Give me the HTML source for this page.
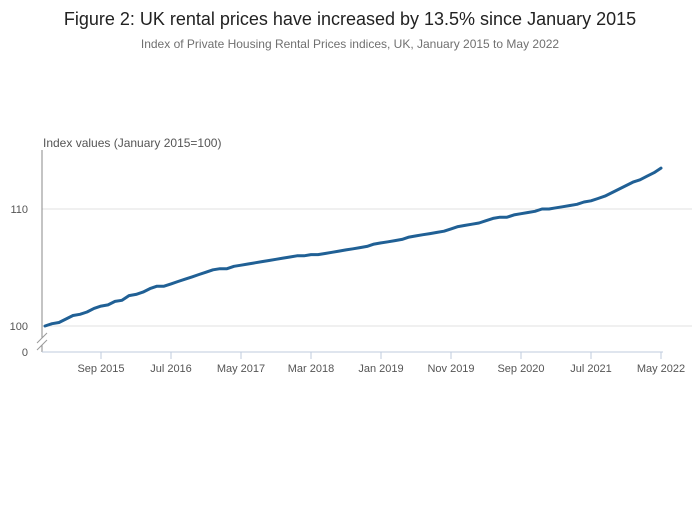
<!DOCTYPE html>
<html><head><meta charset="utf-8"><style>
body{margin:0;background:#fff;font-family:"Liberation Sans",sans-serif;}
svg text{font-family:"Liberation Sans",sans-serif;}
</style></head><body>
<svg width="700" height="502" xmlns="http://www.w3.org/2000/svg">
<text x="350" y="25" text-anchor="middle" font-size="18" fill="#222">Figure 2: UK rental prices have increased by 13.5% since January 2015</text>
<text x="350" y="48" text-anchor="middle" font-size="12" fill="#707070">Index of Private Housing Rental Prices indices, UK, January 2015 to May 2022</text>
<text x="43" y="147" font-size="12" fill="#555">Index values (January 2015=100)</text>
<g id="grid"></g>
<line x1="42" y1="150" x2="42" y2="338" stroke="#888" stroke-width="1"/>
<line x1="42" y1="345" x2="42" y2="352" stroke="#888" stroke-width="1"/>
<g stroke="#999" stroke-width="1">
<line x1="37" y1="343" x2="47" y2="333"/><line x1="37" y1="350" x2="47" y2="340"/>
</g>
<line x1="42" y1="352" x2="663" y2="352" stroke="#bfcbdd" stroke-width="1"/>
<text x="28" y="356" text-anchor="end" font-size="11" fill="#555">0</text>
<g id="xt"></g>
<path id="line" fill="none" stroke="#206095" stroke-width="3" stroke-linejoin="round" stroke-linecap="round"/>
</svg>
<script>
const values=[100.0,100.2,100.3,100.6,100.9,101.0,101.2,101.5,101.7,101.8,102.1,102.2,
102.6,102.7,102.9,103.2,103.4,103.4,103.6,103.8,104.0,104.2,104.4,104.6,
104.8,104.9,104.9,105.1,105.2,105.3,105.4,105.5,105.6,105.7,105.8,105.9,
106.0,106.0,106.1,106.1,106.2,106.3,106.4,106.5,106.6,106.7,106.8,107.0,
107.1,107.2,107.3,107.4,107.6,107.7,107.8,107.9,108.0,108.1,108.3,108.5,
108.6,108.7,108.8,109.0,109.2,109.3,109.3,109.5,109.6,109.7,109.8,110.0,
110.0,110.1,110.2,110.3,110.4,110.6,110.7,110.9,111.1,111.4,111.7,112.0,
112.3,112.5,112.8,113.1,113.5];
const yTicks=[100,110];
const xTickLabels=["Sep 2015","Jul 2016","May 2017","Mar 2018","Jan 2019","Nov 2019","Sep 2020","Jul 2021","May 2022"];
const xTickMonths=[8,18,28,38,48,58,68,78,88];
const NS="http://www.w3.org/2000/svg";
const xs=m=>45+m*7;
const ys=v=>326-(v-100)*11.7;
const grid=document.getElementById('grid');
yTicks.forEach(t=>{
 const l=document.createElementNS(NS,'line');
 l.setAttribute('x1',42);l.setAttribute('x2',692);l.setAttribute('y1',ys(t));l.setAttribute('y2',ys(t));
 l.setAttribute('stroke','#e0e0e0');
 
 
 grid.appendChild(l);
 const tx=document.createElementNS(NS,'text');
 tx.setAttribute('x',28);tx.setAttribute('y',ys(t)+4);tx.setAttribute('text-anchor','end');
 tx.setAttribute('font-size','11');tx.setAttribute('fill','#555');tx.textContent=t;
 
 
 grid.appendChild(tx);
});
const xt=document.getElementById('xt');
xTickLabels.forEach((lab,i)=>{
 const x=xs(xTickMonths[i]);
 const l=document.createElementNS(NS,'line');
 l.setAttribute('x1',x);l.setAttribute('x2',x);l.setAttribute('y1',352);l.setAttribute('y2',359);
 l.setAttribute('stroke','#bfcbdd');
 
 
 xt.appendChild(l);
 const tx=document.createElementNS(NS,'text');
 tx.setAttribute('x',x);tx.setAttribute('y',372);tx.setAttribute('text-anchor','middle');
 tx.setAttribute('font-size','11');tx.setAttribute('fill','#555');tx.textContent=lab;
 
 
 xt.appendChild(tx);
});
document.getElementById('line').setAttribute('d',values.map((v,i)=>(i?'L':'M')+xs(i)+','+ys(v).toFixed(1)).join(''));
</script>
</body></html>
